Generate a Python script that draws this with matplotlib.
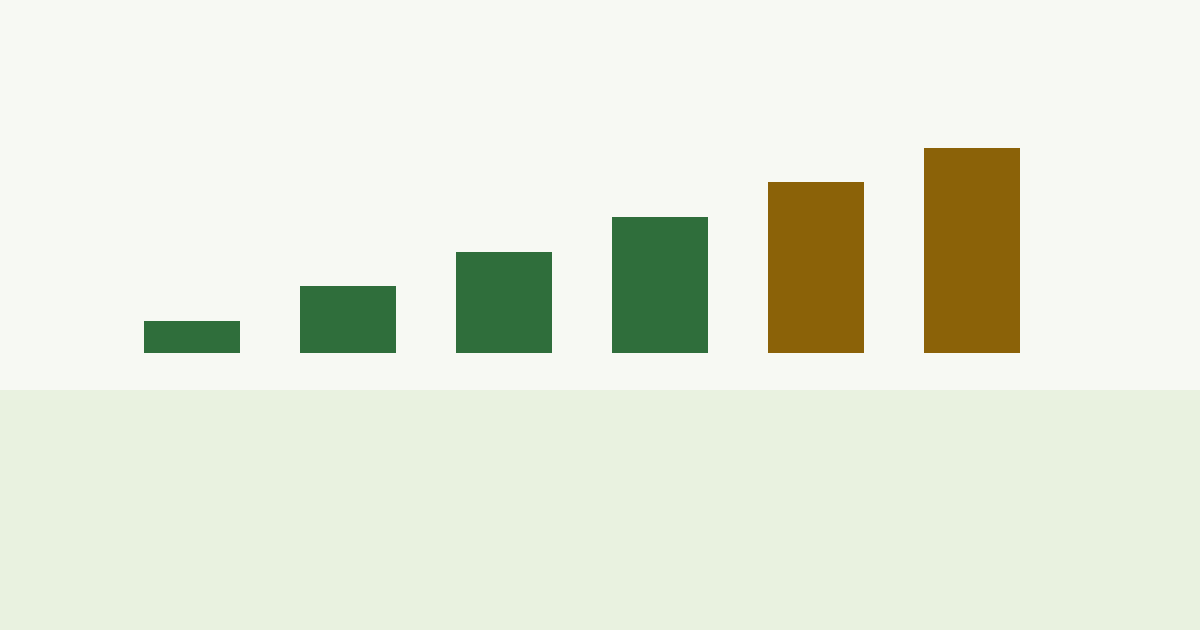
import matplotlib.pyplot as plt
import matplotlib.patches as mpatches

# bar values (pixel-ish units)
steps = ["1", "2", "3", "4", "5", "6"]
values = [32, 67, 101, 136, 171, 205]
colors = ["#2f6e3b", "#2f6e3b", "#2f6e3b", "#2f6e3b", "#8b6208", "#8b6208"]

fig = plt.figure(figsize=(12, 6.3), dpi=100)
fig.patch.set_facecolor("#f7f9f3")

# lower band
fig.patches.append(mpatches.Rectangle((0, 0), 1, 240 / 630, transform=fig.transFigure,
                                      facecolor="#e9f2e0", edgecolor="none", zorder=0))

ax = fig.add_axes([0, 0, 1, 1])
ax.patch.set_alpha(0)
x = list(range(len(steps)))
ax.bar(x, values, width=96.3 / 156, color=colors, align="center")
ax.set_xlim(-192.15 / 156, (1200 - 192.15) / 156)
ax.set_ylim(-277, 353)
ax.axis("off")

fig.savefig("out.png", dpi=100, facecolor=fig.get_facecolor())
